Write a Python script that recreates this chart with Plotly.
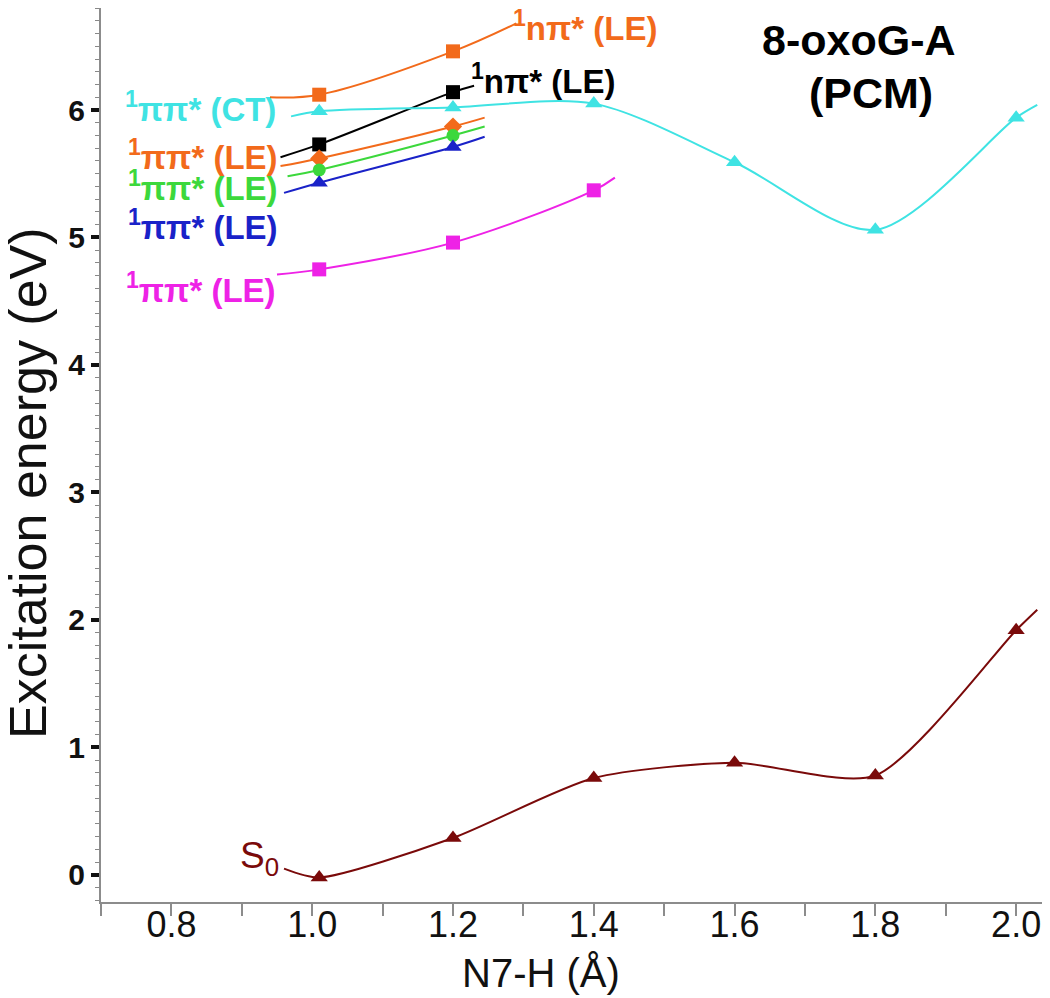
import plotly.graph_objects as go

# ---------------- data ----------------
# Each curve: x positions (N7-H, Å) and energies (eV); first and last entries are
# the ends of the drawn spline, interior entries are the computed points (markers).
NPI_TOP_X = [0.94, 1.01, 1.2, 1.29]
NPI_TOP_E = [6.10, 6.12, 6.46, 6.68]

NPI_BLK_X = [0.955, 1.01, 1.2, 1.23]
NPI_BLK_E = [5.63, 5.73, 6.14, 6.19]

CT_X = [0.97, 1.01, 1.2, 1.4, 1.6, 1.8, 2.0, 2.03]
CT_E = [5.95, 5.99, 6.02, 6.05, 5.59, 5.06, 5.94, 6.04]

PP_OR_X = [0.955, 1.01, 1.2, 1.245]
PP_OR_E = [5.56, 5.62, 5.87, 5.94]

PP_GR_X = [0.965, 1.01, 1.2, 1.245]
PP_GR_E = [5.48, 5.53, 5.80, 5.87]

PP_BL_X = [0.96, 1.01, 1.2, 1.245]
PP_BL_E = [5.35, 5.43, 5.71, 5.79]

PP_MG_X = [0.95, 1.01, 1.2, 1.4, 1.43]
PP_MG_E = [4.71, 4.75, 4.96, 5.37, 5.47]

S0_X = [0.96, 1.01, 1.2, 1.4, 1.6, 1.8, 2.0, 2.03]
S0_E = [0.05, -0.02, 0.29, 0.76, 0.88, 0.78, 1.92, 2.08]

X_TICKS = [0.8, 1.0, 1.2, 1.4, 1.6, 1.8, 2.0]
Y_TICKS = [0, 1, 2, 3, 4, 5, 6]

# ---------------- styles ----------------
ORANGE = "#f26a1b"
CYAN = "#3fe3e3"
GREEN = "#3cd83c"
BLUE = "#1a22c8"
MAGENTA = "#ee22e6"
DARKRED = "#7a0a0a"
BLACK = "#000000"

series = [
    (NPI_TOP_X, NPI_TOP_E, ORANGE, "square", 14, 1.0),
    (NPI_BLK_X, NPI_BLK_E, BLACK, "square", 14, 1.0),
    (CT_X, CT_E, CYAN, "triangle-up", 15, 0.85),
    (PP_OR_X, PP_OR_E, ORANGE, "diamond", 14, 1.0),
    (PP_GR_X, PP_GR_E, GREEN, "circle", 13, 1.0),
    (PP_BL_X, PP_BL_E, BLUE, "triangle-up", 15, 1.0),
    (PP_MG_X, PP_MG_E, MAGENTA, "square", 14, 1.0),
    (S0_X, S0_E, DARKRED, "triangle-up", 15, 0.7),
]

fig = go.Figure()
for xs, ys, col, sym, sz, sm in series:
    fig.add_trace(go.Scatter(x=xs, y=ys, mode="lines",
                             line=dict(color=col, width=2, shape="spline", smoothing=sm),
                             hoverinfo="skip", showlegend=False))
    fig.add_trace(go.Scatter(x=xs[1:-1], y=ys[1:-1], mode="markers",
                             marker=dict(color=col, symbol=sym, size=sz, line=dict(width=0)),
                             showlegend=False))

LBL = "Liberation Sans, Arial, sans-serif"
label_font = dict(family=LBL, size=33, weight="bold")

def add_label(text, x, y, color, xanchor="left", font=None, size=None):
    f = dict(font or label_font)
    f["color"] = color
    if size:
        f["size"] = size
    fig.add_annotation(x=x, y=y, xref="x", yref="y", text=text, showarrow=False,
                       xanchor=xanchor, yanchor="middle", font=f)

add_label("<sup>1</sup>nπ* (LE)", 1.283, 6.66, ORANGE)
add_label("<sup>1</sup>nπ* (LE)", 1.223, 6.24, BLACK)
add_label("<sup>1</sup>ππ* (CT)", 0.731, 6.02, CYAN)
add_label("<sup>1</sup>ππ* (LE)", 0.735, 5.65, ORANGE)
add_label("<sup>1</sup>ππ* (LE)", 0.735, 5.40, GREEN)
add_label("<sup>1</sup>ππ* (LE)", 0.735, 5.10, BLUE)
add_label("<sup>1</sup>ππ* (LE)", 0.733, 4.60, MAGENTA)
add_label("8-oxoG-A", 1.777, 6.55, BLACK, xanchor="center", size=43)
add_label("(PCM)", 1.794, 6.13, BLACK, xanchor="center", size=43)
add_label("S<sub>0</sub>", 0.895, 0.13, DARKRED,
          font=dict(family=LBL, size=37, weight="normal"))

# axis titles as free annotations (placed off-centre like in the reference)
fig.add_annotation(text="Excitation energy (eV)", xref="paper", yref="paper",
                   x=-0.0773, y=0.4687, xanchor="center", yanchor="middle",
                   textangle=-90, showarrow=False,
                   font=dict(family=LBL, size=52, color="#111"))
fig.add_annotation(text="N7-H (Å)", xref="paper", yref="paper",
                   x=0.466, y=-0.0794, xanchor="center", yanchor="middle",
                   showarrow=False, font=dict(family=LBL, size=40, color="#111"))

fig.update_layout(
    width=1042, height=990,
    margin=dict(l=93, r=5, t=0, b=96),
    paper_bgcolor="white", plot_bgcolor="white",
    showlegend=False,
)
fig.update_xaxes(
    range=[0.7, 2.041], showgrid=False, zeroline=False, automargin=False,
    showline=True, linecolor="#8c8c8c", linewidth=2,
    tickmode="array", tickvals=X_TICKS, ticktext=[f"{v:.1f}" for v in X_TICKS],
    ticks="outside", ticklen=12, tickwidth=2, tickcolor="#8c8c8c",
    minor=dict(dtick=0.1, tick0=0.7, ticks="outside", ticklen=12, tickwidth=2, tickcolor="#8c8c8c"),
    tickfont=dict(family=LBL, size=36, color="#111"),
    ticklabelstandoff=-22,
)
fig.update_yaxes(
    range=[-0.212, 6.80], showgrid=False, zeroline=False, automargin=False,
    showline=True, linecolor="#8c8c8c", linewidth=2,
    tickmode="array", tickvals=Y_TICKS, ticktext=[str(v) for v in Y_TICKS],
    ticks="outside", ticklen=8, tickwidth=4, tickcolor="#111",
    minor=dict(dtick=0.1, tick0=0, ticks="outside", ticklen=4, tickwidth=1, tickcolor="#888"),
    tickfont=dict(family=LBL, size=30, color="#111", weight="bold"),
)

fig.write_html("out.html")
